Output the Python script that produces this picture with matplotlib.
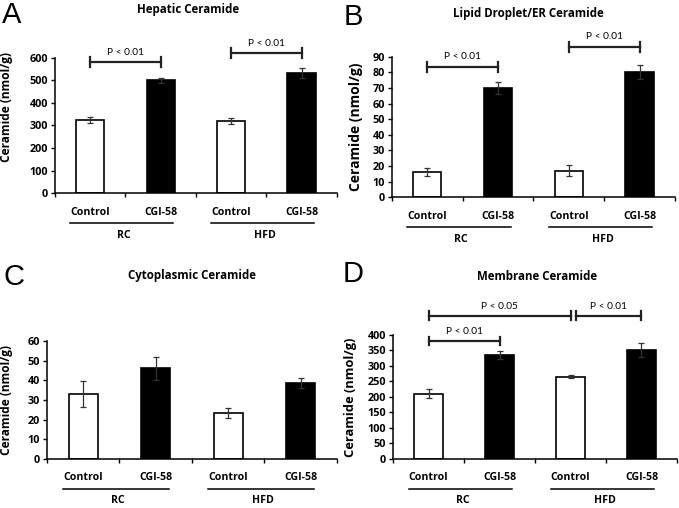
import matplotlib
matplotlib.use('Agg')
import matplotlib.pyplot as plt
import matplotlib.transforms as mtransforms
import numpy as np

plt.rcParams['font.family'] = ['Open Sans', 'DejaVu Sans']

categories = ['Control', 'CGI-58', 'Control', 'CGI-58']
groups = ['RC', 'HFD']

hepatic = [325, 500, 320, 535]
hepatic_err = [13, 12, 13, 22]
lipid = [16, 70, 17, 80]
lipid_err = [2.5, 4, 3.5, 4.5]
cyto = [33, 46, 23.5, 38.5]
cyto_err = [6.5, 6, 2.5, 2.5]
membrane = [210, 335, 265, 352]
membrane_err = [15, 13, 5, 22]

# brackets: (bar i, bar j, y, label)
hepatic_p = [(0, 1, 582, 'P < 0.01'), (2, 3, 622, 'P < 0.01')]
lipid_p = [(0, 1, 83.5, 'P < 0.01'), (2, 3, 96.5, 'P < 0.01')]
cyto_p = []
membrane_p = [(0, 1, 380, 'P < 0.01'), (0, 2, 461, 'P < 0.05'), (2.08, 3, 461, 'P < 0.01')]


def panel(fig, rect, vals, errs, ymax, ystep, brackets, ylab_size, ylab_x, ylab_y=0.5):
    ax = fig.add_axes(rect)
    x = np.arange(len(vals))
    colors = ['white', 'black', 'white', 'black']
    ax.bar(x, vals, width=0.4, color=colors, edgecolor='black', linewidth=1.2, zorder=2)
    ax.errorbar(x, vals, yerr=errs, fmt='none', ecolor='#333333', elinewidth=0.9,
                capsize=2.5, capthick=0.9, zorder=3)
    ax.set_xlim(-0.5, 3.5)
    ax.set_ylim(0, ymax)
    ticks = np.arange(0, ymax + 1e-9, ystep)
    ax.set_yticks(ticks)
    ax.set_yticklabels([str(int(v)) for v in ticks], fontsize=7.8, fontweight='bold')
    ax.set_xticks([-0.5, 0.5, 1.5, 2.5, 3.5])
    ax.set_xticklabels([])
    ax.tick_params(axis='both', direction='out', length=3, width=1, pad=2)
    for s in ['top', 'right']:
        ax.spines[s].set_visible(False)
    for s in ['left', 'bottom']:
        ax.spines[s].set_linewidth(1.1)
    ax.set_ylabel('Ceramide (nmol/g)', fontsize=ylab_size, fontweight='bold')
    ax.yaxis.set_label_coords(ylab_x, ylab_y)

    # category labels, group underlines and group names below the axis
    tr = ax.get_xaxis_transform()
    for i, lab in enumerate(categories):
        t = mtransforms.offset_copy(tr, fig=fig, y=-19, units='dots')
        ax.text(x[i], 0, lab, transform=t, ha='center', va='center',
                fontsize=7.6, fontweight='bold')
    for g, lab in enumerate(groups):
        t = mtransforms.offset_copy(tr, fig=fig, y=-30, units='dots')
        ax.plot([2 * g - 0.28, 2 * g + 1.18], [0, 0], transform=t, color='black',
                lw=1.1, clip_on=False)
        t2 = mtransforms.offset_copy(tr, fig=fig, y=-42, units='dots')
        ax.text(2 * g + 0.48, 0, lab, transform=t2, ha='center', va='center',
                fontsize=7.6, fontweight='bold')

    # significance brackets
    h = ymax * 0.035
    for i, j, y, lab in brackets:
        ax.plot([i, j], [y, y], color='#222222', lw=1.6, clip_on=False)
        ax.plot([i, i], [y - h, y + h], color='#222222', lw=1.6, clip_on=False)
        ax.plot([j, j], [y - h, y + h], color='#222222', lw=1.6, clip_on=False)
        ax.text((i + j) / 2, y + ymax * 0.04, lab, ha='center', va='bottom', fontsize=7.3,
                family=['Lato', 'DejaVu Sans'])
    return ax


fig = plt.figure(figsize=(6.79, 5.08), dpi=100)

panel(fig, [0.081, 0.620, 0.415, 0.266], hepatic, hepatic_err, 600, 100, hepatic_p, 8.6, -0.149, 0.637)
panel(fig, [0.577, 0.612, 0.417, 0.276], lipid, lipid_err, 90, 10, lipid_p, 10, -0.102)
panel(fig, [0.069, 0.0965, 0.427, 0.2325], cyto, cyto_err, 60, 10, cyto_p, 8.6, -0.117)
panel(fig, [0.579, 0.0965, 0.418, 0.2445], membrane, membrane_err, 400, 50, membrane_p, 9.3, -0.127)

W, H = 679, 508
titles = [('Hepatic Ceramide', 188, 9), ('Lipid Droplet/ER Ceramide', 528, 13),
          ('Cytoplasmic Ceramide', 192, 275), ('Membrane Ceramide', 537, 276)]
for txt, px, py in titles:
    fig.text(px / W, 1 - py / H, txt, ha='center', va='center', fontsize=8.3, fontweight='bold')

letters = [('A', 12, 15), ('B', 353, 17), ('C', 14, 277), ('D', 353, 274)]
for txt, px, py in letters:
    fig.text(px / W, 1 - py / H, txt, ha='center', va='center', fontsize=21,
             family=['Liberation Sans', 'DejaVu Sans'])

fig.savefig('out.png', dpi=100)
